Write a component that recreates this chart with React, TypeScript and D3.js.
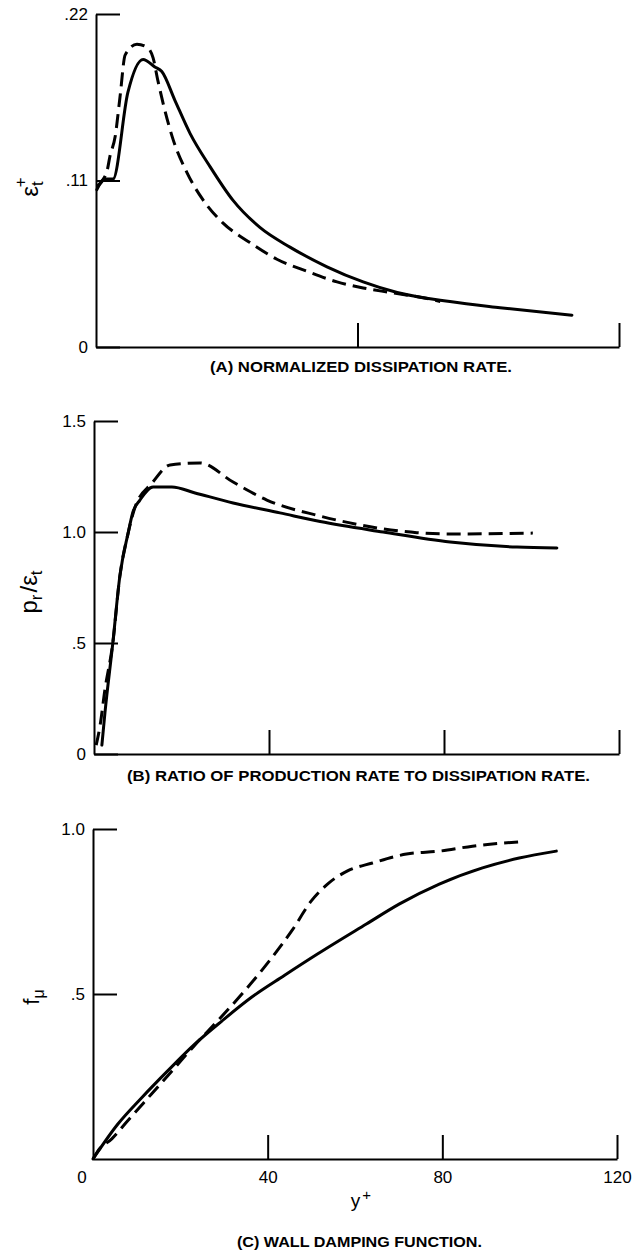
import { useEffect, useRef } from 'react'
import * as d3 from 'd3'

type Pt = [number, number]

// (A) normalized dissipation rate, eps_t+ against y+
const dissSolid: Pt[] = [
  [0.2, 0.104], [2.0, 0.111], [3.9, 0.111], [7.3, 0.168], [10.8, 0.19],
  [13.5, 0.185], [15.1, 0.182], [18.1, 0.163], [21.6, 0.141], [26.2, 0.119],
  [31.4, 0.097], [37.6, 0.079], [44.5, 0.066], [53.0, 0.053], [61.3, 0.043],
  [69.1, 0.036], [81.2, 0.03], [92.7, 0.026], [109.2, 0.021],
]
const dissDashed: Pt[] = [
  [0.2, 0.106], [2.5, 0.116], [3.2, 0.126], [4.4, 0.139], [5.5, 0.165],
  [6.7, 0.193], [9.4, 0.2], [11.7, 0.198], [13.1, 0.191], [14.2, 0.176],
  [15.4, 0.161], [17.7, 0.137], [20.9, 0.115], [24.6, 0.097], [29.1, 0.082],
  [35.3, 0.069], [41.5, 0.058], [48.4, 0.05], [55.3, 0.043], [61.3, 0.039],
  [67.5, 0.036], [76.0, 0.032], [79.0, 0.03],
]

// (B) ratio of production rate to dissipation rate
const ratioSolid: Pt[] = [
  [1.8, 0.04], [2.5, 0.185], [4.3, 0.5], [5.9, 0.8], [7.8, 0.995],
  [8.9, 1.09], [10.5, 1.144], [13.5, 1.203], [17.8, 1.203], [23.1, 1.176],
  [31.8, 1.131], [42.5, 1.086], [51.7, 1.047], [66.1, 1.0], [81.4, 0.955],
  [96.7, 0.932], [105.8, 0.928],
]
const ratioDashed: Pt[] = [
  [0.5, 0.04], [1.4, 0.13], [2.5, 0.29], [4.3, 0.5], [5.9, 0.8],
  [7.8, 0.995], [9.4, 1.113], [13.3, 1.221], [17.4, 1.302], [24.2, 1.311],
  [31.8, 1.225], [39.5, 1.144], [51.0, 1.075], [58.5, 1.041], [66.1, 1.014],
  [73.8, 0.997], [81.4, 0.991], [100.3, 0.995],
]

// (C) wall damping function f_mu
const dampSolid: Pt[] = [
  [0, 0], [5.7, 0.106], [11.1, 0.185], [17.1, 0.267], [23.3, 0.348],
  [29.5, 0.418], [36.3, 0.49], [43.8, 0.556], [51.4, 0.621], [62.6, 0.712],
  [70.2, 0.773], [79.3, 0.833], [89.2, 0.882], [97.6, 0.912], [106.1, 0.933],
]
const dampDashed: Pt[] = [
  [0, 0], [1.1, 0.024], [4.3, 0.061], [7.9, 0.115], [13.4, 0.197],
  [18.7, 0.276], [23.3, 0.345], [28.5, 0.418], [34.7, 0.509], [40.9, 0.609],
  [45.5, 0.691], [50.0, 0.782], [53.7, 0.833], [58.3, 0.873], [64.0, 0.897],
  [71.8, 0.924], [79.4, 0.933], [86.9, 0.948], [97.6, 0.961],
]

const dissTicks = [0, 0.11, 0.22]
const dissTickLabels = ['0', '.11', '.22']
const ratioTicks = [0, 0.5, 1.0, 1.5]
const ratioTickLabels = ['0', '.5', '1.0', '1.5']
const dampTicks = [0.5, 1.0]
const dampTickLabels = ['.5', '1.0']
const xTicksA = [60, 120]
const xTicksBC = [40, 80, 120]

const captions = [
  '(A) NORMALIZED DISSIPATION RATE.',
  '(B) RATIO OF PRODUCTION RATE TO DISSIPATION RATE.',
  '(C) WALL DAMPING FUNCTION.',
]

const FONT = "'Liberation Sans', Arial, sans-serif"

const panels = [
  {
    left: 96, right: 619, top: 14, bottom: 347, yMax: 0.22,
    yTicks: dissTicks, yLabels: dissTickLabels, xTicks: xTicksA, xLabels: false,
    solid: dissSolid, dashed: dissDashed,
    caption: captions[0], capX0: 210, capX1: 512, capY: 372,
  },
  {
    left: 94, right: 619, top: 421, bottom: 754, yMax: 1.5,
    yTicks: ratioTicks, yLabels: ratioTickLabels, xTicks: xTicksBC, xLabels: false,
    solid: ratioSolid, dashed: ratioDashed,
    caption: captions[1], capX0: 127, capX1: 590, capY: 781,
  },
  {
    left: 93, right: 617, top: 829, bottom: 1159, yMax: 1.0,
    yTicks: dampTicks, yLabels: dampTickLabels, xTicks: xTicksBC, xLabels: true,
    solid: dampSolid, dashed: dampDashed,
    caption: captions[2], capX0: 237, capX1: 482, capY: 1247,
  },
]

export default function App() {
  const ref = useRef<SVGGElement>(null)

  useEffect(() => {
    if (!ref.current) return
    const root = d3.select(ref.current)
    root.selectAll('*').remove()

    panels.forEach((p) => {
      const x = d3.scaleLinear().domain([0, 120]).range([p.left, p.right])
      const y = d3.scaleLinear().domain([0, p.yMax]).range([p.bottom, p.top])
      const g = root.append('g')

      const styleAxis = (sel: any) => {
        sel.attr('font-family', FONT).attr('font-size', 17)
        sel.select('.domain').attr('stroke', '#000').attr('stroke-width', 2)
        sel.selectAll('.tick line').attr('stroke', '#000').attr('stroke-width', 2)
        sel.selectAll('.tick text').attr('fill', '#000')
      }

      const yAxis = d3
        .axisLeft(y)
        .tickValues(p.yTicks)
        .tickFormat((_d, i) => p.yLabels[i])
        .tickSize(-24)
        .tickSizeOuter(0)
        .tickPadding(8)
      g.append('g').attr('transform', `translate(${p.left},0)`).call(yAxis).call(styleAxis)

      const xAxis = d3
        .axisBottom(x)
        .tickValues(p.xTicks)
        .tickFormat((d) => (p.xLabels ? String(d) : ''))
        .tickSize(-24)
        .tickSizeOuter(0)
        .tickPadding(12)
      g.append('g').attr('transform', `translate(0,${p.bottom})`).call(xAxis).call(styleAxis)

      if (p.xLabels) {
        g.append('text')
          .attr('x', x(0) - 11)
          .attr('y', p.bottom + 12)
          .attr('dy', '0.71em')
          .attr('text-anchor', 'middle')
          .attr('font-family', FONT)
          .attr('font-size', 17)
          .text('0')
      }

      const line = d3
        .line<Pt>()
        .x((d) => x(d[0]))
        .y((d) => y(d[1]))
        .curve(d3.curveMonotoneX)

      g.append('path')
        .attr('d', line(p.dashed))
        .attr('fill', 'none')
        .attr('stroke', '#000')
        .attr('stroke-width', 3)
        .attr('stroke-dasharray', '14,7')

      g.append('path')
        .attr('d', line(p.solid))
        .attr('fill', 'none')
        .attr('stroke', '#000')
        .attr('stroke-width', 3)
        .attr('stroke-linecap', 'round')

      g.append('text')
        .attr('x', p.capX0)
        .attr('y', p.capY)
        .attr('font-family', FONT)
        .attr('font-size', 14)
        .attr('font-weight', 'bold')
        .attr('textLength', p.capX1 - p.capX0)
        .attr('lengthAdjust', 'spacingAndGlyphs')
        .text(p.caption)
    })
  }, [])

  return (
    <svg width={635} height={1251} style={{ position: 'absolute', left: 0, top: 0 }}>
      <rect width={635} height={1251} fill="#fff" />
      <g ref={ref} />
      {/* axis titles */}
      <g fontFamily={FONT} fill="#000">
        <text transform="translate(38,187) rotate(-90)" textAnchor="middle" fontSize={24}>
          ε<tspan fontSize={17} dy={5}>t</tspan>
          <tspan fontSize={17} dx={-6} dy={-17}>+</tspan>
        </text>
        <text transform="translate(37,592) rotate(-90)" textAnchor="middle" fontSize={24}>
          p<tspan fontSize={17} dy={5}>r</tspan>
          <tspan dx={2} dy={-5}>/ε</tspan>
          <tspan fontSize={17} dy={5}>t</tspan>
        </text>
        <text transform="translate(39,997) rotate(-90)" textAnchor="middle" fontSize={22}>
          f<tspan fontSize={16} dy={5}>μ</tspan>
        </text>
        <text x={361} y={1207} textAnchor="middle" fontSize={19}>
          y<tspan fontSize={15} dx={2} dy={-7}>+</tspan>
        </text>
      </g>
    </svg>
  )
}
